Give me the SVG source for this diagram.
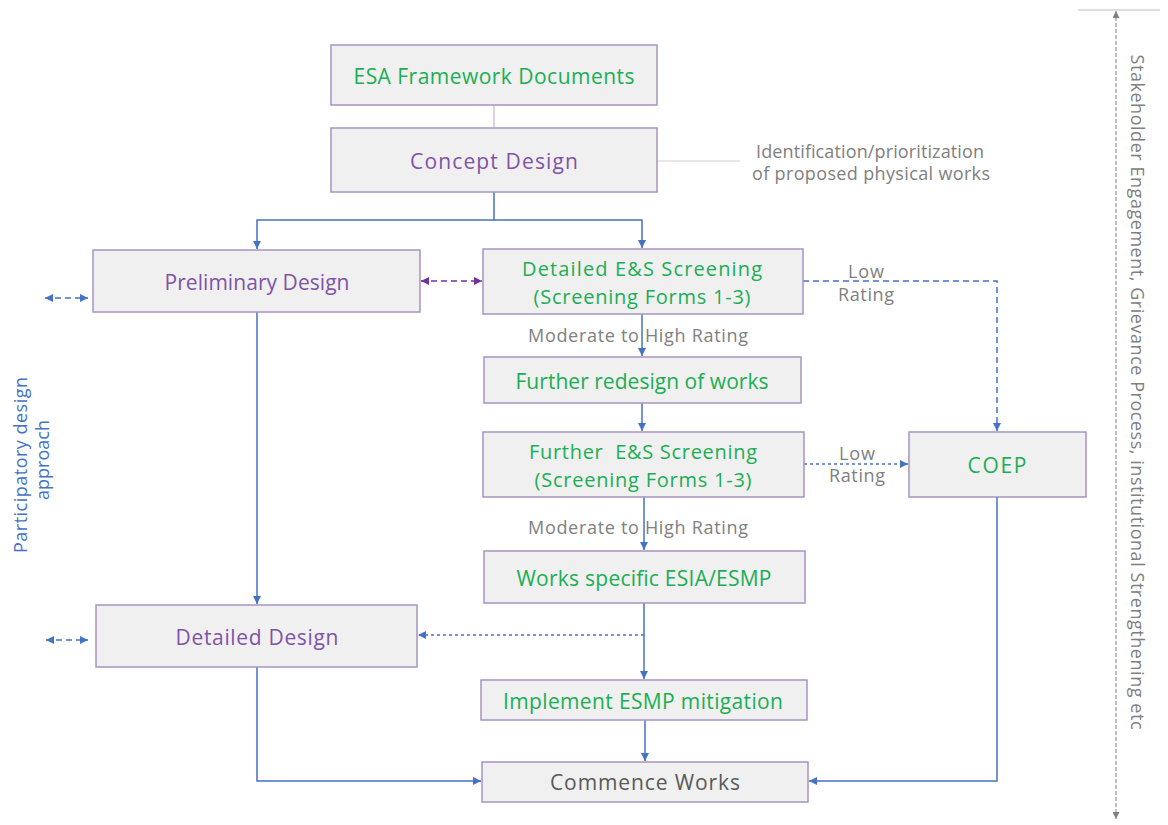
<svg xmlns="http://www.w3.org/2000/svg" width="1168" height="825" viewBox="0 0 1168 825">
<defs>
<style>
.box{fill:#F0F0F0;stroke:#A993C4;stroke-width:1.5}
.t{font-family:"Open Sans","Liberation Sans",sans-serif;font-size:21px;text-anchor:middle;dominant-baseline:central}
.t2{font-size:20px}
.g{fill:#1BAE54}
.p{fill:#8052A8}
.k{fill:#595959}
.lbl{font-family:"Open Sans","Liberation Sans",sans-serif;font-size:18px;fill:#808080;text-anchor:middle;dominant-baseline:central}
.c{fill:none;stroke:#4472C4;stroke-width:1.5}
.dash{stroke-dasharray:6 4}
.dot{stroke-dasharray:3 3}
</style>
<marker id="ab" viewBox="0 0 10 10" refX="10" refY="5" markerWidth="8" markerHeight="8" markerUnits="userSpaceOnUse" orient="auto-start-reverse"><path d="M0,0 L10,5 L0,10 z" fill="#4472C4"/></marker>
<marker id="ap" viewBox="0 0 10 10" refX="10" refY="5" markerWidth="8" markerHeight="8" markerUnits="userSpaceOnUse" orient="auto-start-reverse"><path d="M0,0 L10,5 L0,10 z" fill="#7030A0"/></marker>
<marker id="ag" viewBox="0 0 10 10" refX="10" refY="5" markerWidth="7" markerHeight="7" markerUnits="userSpaceOnUse" orient="auto-start-reverse"><path d="M0,0 L10,5 L0,10 z" fill="#808080"/></marker>
</defs>
<rect width="1168" height="825" fill="#FFFFFF"/>

<g id="connectors">
<line x1="494" y1="105" x2="494" y2="128" stroke="#D5C3E3" stroke-width="1.5"/>
<line x1="657" y1="161" x2="740" y2="161" stroke="#CFCFCF" stroke-width="1.2"/>
<polyline class="c" points="494,192 494,220 257,220 257,249" marker-end="url(#ab)"/>
<polyline class="c" points="494,220 642,220 642,248" marker-end="url(#ab)"/>
<line x1="421" y1="281" x2="482" y2="281" stroke="#7030A0" stroke-width="1.5" stroke-dasharray="6 4" marker-start="url(#ap)" marker-end="url(#ap)"/>
<line class="c dash" x1="45" y1="298" x2="88" y2="298" marker-start="url(#ab)" marker-end="url(#ab)"/>
<line class="c dash" x1="46" y1="640" x2="88" y2="640" marker-start="url(#ab)" marker-end="url(#ab)"/>
<line class="c" x1="257" y1="312" x2="257" y2="604" marker-end="url(#ab)"/>
<line class="c" x1="642" y1="314" x2="642" y2="356" marker-end="url(#ab)"/>
<line class="c" x1="642" y1="403" x2="642" y2="431" marker-end="url(#ab)"/>
<line class="c" x1="644" y1="497" x2="644" y2="550" marker-end="url(#ab)"/>
<line class="c" x1="644" y1="603" x2="644" y2="679" marker-end="url(#ab)"/>
<line class="c dot" x1="644" y1="635" x2="418" y2="635" marker-end="url(#ab)"/>
<line class="c" x1="645" y1="720" x2="645" y2="761" marker-end="url(#ab)"/>
<polyline class="c" points="257,667 257,781 481,781" marker-end="url(#ab)"/>
<polyline class="c" points="997,497 997,781 809,781" marker-end="url(#ab)"/>
<polyline class="c dash" points="803,281 997,281 997,431" marker-end="url(#ab)"/>
<line class="c dot" x1="804" y1="464" x2="908" y2="464" marker-end="url(#ab)"/>
<line x1="1078" y1="10" x2="1160" y2="10" stroke="#BFBFBF" stroke-width="1.2"/>
<line x1="1116" y1="11" x2="1116" y2="819" stroke="#808080" stroke-width="1" stroke-dasharray="4 2" marker-start="url(#ag)" marker-end="url(#ag)"/>
<text class="lbl" x="638" y="335" textLength="220">Moderate to High Rating</text>
<text class="lbl" x="638" y="527" textLength="220">Moderate to High Rating</text>
<text class="lbl" x="866" y="271" textLength="36">Low</text>
<text class="lbl" x="866" y="294" textLength="56">Rating</text>
<text class="lbl" x="857" y="453" textLength="36">Low</text>
<text class="lbl" x="857" y="475" textLength="56">Rating</text>
<text class="lbl" x="870" y="151" textLength="228">Identification/prioritization</text>
<text class="lbl" x="871" y="173" textLength="238">of proposed physical works</text>
<text class="lbl" style="fill:#4472C4" transform="translate(20,465) rotate(-90)" textLength="176">Participatory design</text>
<text class="lbl" style="fill:#4472C4" transform="translate(42,460) rotate(-90)" textLength="80">approach</text>
<text class="lbl" transform="translate(1138,392) rotate(90)" textLength="675">Stakeholder Engagement, Grievance Process, institutional Strengthening etc</text>
</g>

<g id="esa"><rect class="box" x="331" y="45" width="326" height="60"/><text class="t g" x="494" y="76" textLength="281">ESA Framework Documents</text></g>
<g id="concept"><rect class="box" x="331" y="128" width="326" height="64"/><text class="t p" x="494" y="161" textLength="168">Concept Design</text></g>
<g id="prelim"><rect class="box" x="93" y="250" width="327" height="62"/><text class="t p" x="257" y="282" textLength="185">Preliminary Design</text></g>
<g id="detscreen"><rect class="box" x="483" y="249" width="320" height="65"/><text class="t t2 g" x="642" y="268" textLength="240">Detailed E&amp;S Screening</text><text class="t t2 g" x="642" y="296" textLength="217">(Screening Forms 1-3)</text></g>
<g id="redesign"><rect class="box" x="484" y="357" width="317" height="46"/><text class="t g" x="642" y="381" textLength="253">Further redesign of works</text></g>
<g id="furtherscreen"><rect class="box" x="483" y="432" width="321" height="65"/><text class="t t2 g" x="643" y="451" textLength="228" xml:space="preserve">Further  E&amp;S Screening</text><text class="t t2 g" x="643" y="479" textLength="217">(Screening Forms 1-3)</text></g>
<g id="coep"><rect class="box" x="909" y="432" width="177" height="65"/><text class="t g" x="997" y="465" textLength="59">COEP</text></g>
<g id="esia"><rect class="box" x="484" y="551" width="321" height="52"/><text class="t g" x="644" y="578" textLength="255">Works specific ESIA/ESMP</text></g>
<g id="detdesign"><rect class="box" x="96" y="605" width="321" height="62"/><text class="t p" x="257" y="637" textLength="163">Detailed Design</text></g>
<g id="implement"><rect class="box" x="481" y="680" width="326" height="40"/><text class="t g" x="643" y="701" textLength="280">Implement ESMP mitigation</text></g>
<g id="commence"><rect class="box" x="482" y="762" width="326" height="40"/><text class="t k" x="645" y="782" textLength="190">Commence Works</text></g>
</svg>
